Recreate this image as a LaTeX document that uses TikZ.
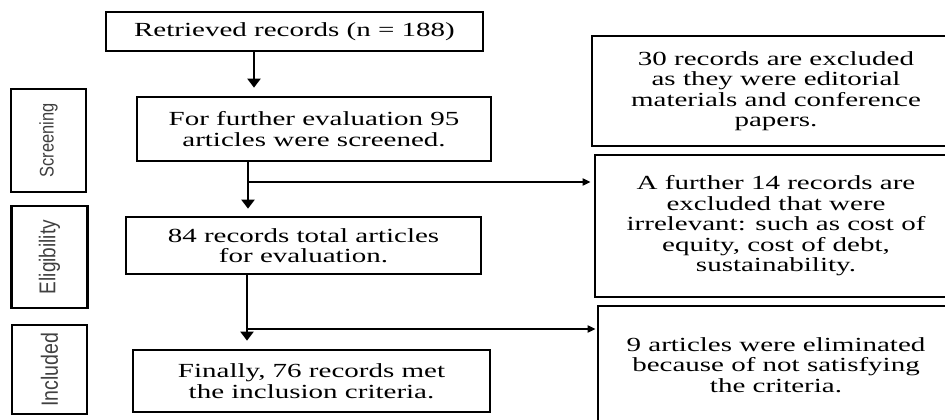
\documentclass[tikz,border=0pt]{standalone}
\usepackage{fontspec}
\setmainfont{Liberation Serif}[FakeStretch=1.45]
\newfontfamily\labfont{Liberation Sans}
\usepackage{graphicx}
\usetikzlibrary{arrows.meta}
\newcommand\sidelabel[1]{\rotatebox{90}{\resizebox{74pt}{!}{\scalebox{1}[1.2]{\labfont #1}}}}
\begin{document}
\begin{tikzpicture}[x=1pt,y=-1pt,
  box/.style={draw, line width=2.7pt, align=center, inner sep=0pt,
    font=\fontsize{20}{20.5}\selectfont},
  lab/.style={draw, line width=2.9pt, inner sep=0pt, text=black!75},
  varr/.style={line width=2.6pt, -{Triangle[length=9pt,width=13pt]}},
  harr/.style={line width=1.8pt, -{Triangle[length=8pt,width=7pt]}}]
\useasboundingbox (0,0) rectangle (945,420);
\clip (0,0) rectangle (945,420);
\node[box, minimum width=377pt, minimum height=39pt] (ret) at (294.5,31.5) {Retrieved records (n = 188)};
\node[box, minimum width=354pt, minimum height=64pt] (scr) at (314,129) {For further evaluation 95\\articles were screened.};
\node[box, minimum width=355pt, minimum height=57pt] (elig) at (303.5,245.5) {84 records total articles\\for evaluation.};
\node[box, minimum width=357pt, minimum height=62pt] (fin) at (311.5,381) {Finally, 76 records met\\the inclusion criteria.};
\node[box, minimum width=368pt, minimum height=110pt] (ex1) at (776,91) {30 records are excluded\\as they were editorial\\materials and conference\\papers.};
\node[box, minimum width=362pt, minimum height=142pt] (ex2) at (776,226) {A further 14 records are\\excluded that were\\irrelevant: such as cost of\\equity, cost of debt,\\sustainability.};
\node[box, minimum width=356pt, minimum height=118pt] (ex3) at (776,365) {9 articles were eliminated\\because of not satisfying\\the criteria.};
\node[lab, minimum width=75pt, minimum height=103pt] (ls) at (48.5,140.5) {\sidelabel{Screening}};
\node[lab, minimum width=76pt, minimum height=102pt] (le) at (49.5,257) {\sidelabel{Eligibility}};
\node[lab, minimum width=75pt, minimum height=89pt] (li) at (49.5,369.5) {\sidelabel{Included}};
\coordinate (c1) at (254,0);
\coordinate (c2) at (248,182);
\coordinate (c3) at (247,329);
\draw[varr, shorten >=8pt] (ret.south -| c1) -- (scr.north -| c1);
\draw[varr, shorten >=7pt] (scr.south -| c2) -- (elig.north -| c2);
\draw[harr, shorten >=3pt] (c2) -- (ex2.west |- c2);
\draw[varr, shorten >=8pt] (elig.south -| c3) -- (fin.north -| c3);
\draw[harr, shorten >=1pt] (c3) -- (ex3.west |- c3);
\end{tikzpicture}
\end{document}
